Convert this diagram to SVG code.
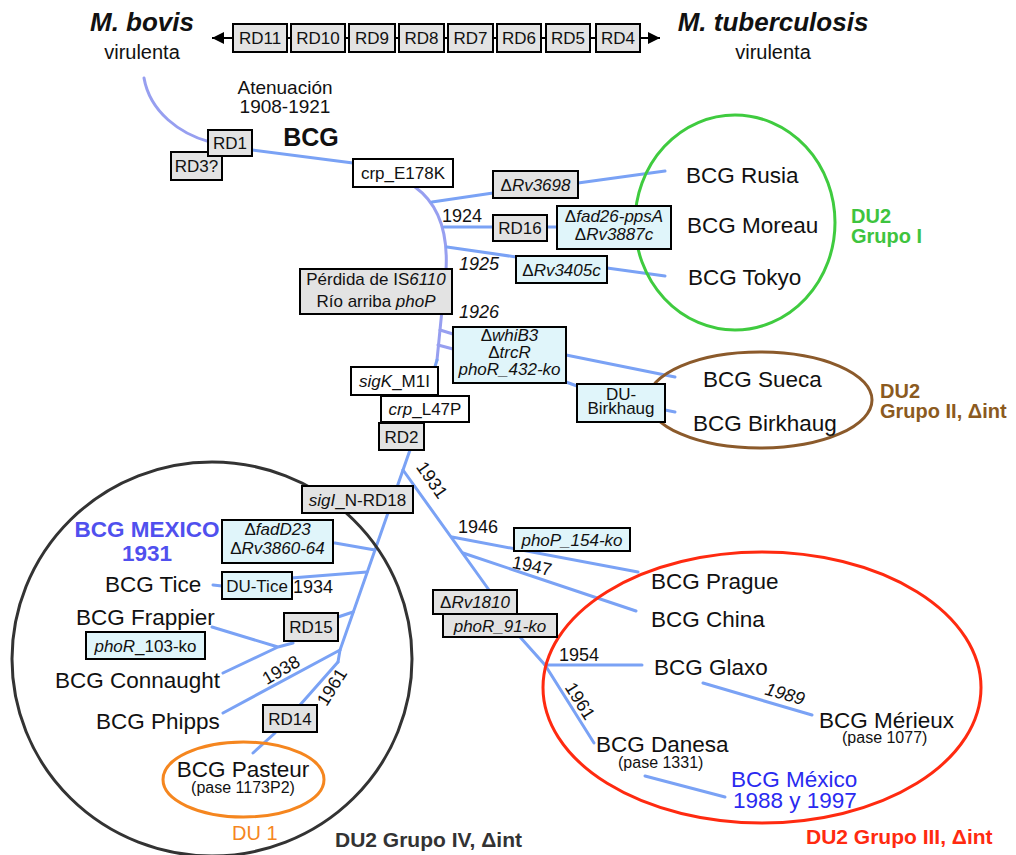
<svg xmlns="http://www.w3.org/2000/svg" width="1016" height="855" viewBox="0 0 1016 855">
<defs>
<marker id="ah" viewBox="0 0 10 10" refX="10" refY="5" markerWidth="12" markerHeight="12" markerUnits="userSpaceOnUse" orient="auto-start-reverse"><path d="M0,0 L10,5 L0,10 z" fill="#000"/></marker>
</defs>
<style>
text{font-family:"Liberation Sans",Arial,sans-serif;fill:#111}
.bx{stroke:#000;stroke-width:2}
.g{fill:#e3e3e3}
.c{fill:#e0f5fa}
.w{fill:#fff}
.t{font-size:17px;text-anchor:middle}
.n{font-size:22.5px}
.y{font-size:18px;text-anchor:middle}
.l{fill:none;stroke:#7aa2f5;stroke-width:3;stroke-linecap:round}
.p{stroke:#979ff0}
.i{font-style:italic}
.gl{font-size:20px;font-weight:bold}
.el{fill:none;stroke-width:3}
.ps{font-size:16px}
</style>
<rect width="1016" height="855" fill="#fff"/>

<g id="connectors">
<path d="M212,38 L660,38" fill="none" stroke="#000" stroke-width="2" marker-start="url(#ah)" marker-end="url(#ah)"/>
<path class="l p" d="M144,78 C150,112 180,134 210,142"/>
<path class="l" d="M252,150 L353,163"/>
<path class="l p" d="M415,187 C440,205 448,235 446,270 L437,360"/>
<path class="l" d="M437,360 L410,450 L340,650 L338,662"/>
<path class="l" d="M432,202 L493,193 M578,183 L665,171"/>
<path class="l" d="M444,227 L493,227 M547,227 L557,227"/>
<path class="l" d="M447,247 L516,257 M607,268 L665,276"/>
<path class="l p" d="M440,330 L453,334 M438,345 L453,349"/>
<path class="l" d="M566,355 L675,377 M566,382 L577,386 M665,410 L675,412"/>
<path class="l" d="M403,470 L489,590 M520,637 L545,665 L594,743"/>
<path class="l" d="M452,537 L638,572 M463,553 L636,611"/>
<path class="l" d="M545,665 L642,665"/>
<path class="l" d="M703,683 L812,715"/>
<path class="l" d="M645,776 L725,797"/>
<path class="l" d="M335,543 L375,550 M291,578 L367,572 M213,585 L222,586"/>
<path class="l" d="M338,617 L353,612 M293,643 L278,647 M212,627 L278,647 M223,673 L278,647"/>
<path class="l" d="M223,713 L340,650 M338,662 L300,705 M275,733 L253,753"/>
</g>

<g id="groups">
<ellipse id="grupoI" class="el" cx="735" cy="222.5" rx="100" ry="107.5" stroke="#3fcb3f"/>
<ellipse id="grupoII" class="el" cx="760" cy="400" rx="112" ry="48" stroke="#8b5a2b"/>
<ellipse id="grupoIV" class="el" cx="212" cy="659" rx="200" ry="197" stroke="#333"/>
<ellipse id="du1" class="el" cx="243.5" cy="779.5" rx="80.5" ry="37.5" stroke="#f5861f"/>
<ellipse id="grupoIII" class="el" cx="762" cy="687.5" rx="219" ry="135.5" stroke="#ff2a10"/>
</g>

<g id="mbovis">
<text x="142" y="31" font-size="26" font-weight="bold" font-style="italic" text-anchor="middle">M. bovis</text>
<text x="142" y="59" font-size="20" text-anchor="middle">virulenta</text>
</g>
<g id="mtb">
<text x="773" y="31" font-size="26" font-weight="bold" font-style="italic" text-anchor="middle">M. tuberculosis</text>
<text x="773" y="59" font-size="20" text-anchor="middle">virulenta</text>
</g>
<g id="rd-row">
<rect class="bx g" x="233" y="24" width="54" height="28"/><text class="t" x="260" y="44">RD11</text>
<rect class="bx g" x="291" y="24" width="54" height="28"/><text class="t" x="318" y="44">RD10</text>
<rect class="bx g" x="349" y="24" width="46" height="28"/><text class="t" x="372" y="44">RD9</text>
<rect class="bx g" x="399" y="24" width="45" height="28"/><text class="t" x="421.5" y="44">RD8</text>
<rect class="bx g" x="448" y="24" width="45" height="28"/><text class="t" x="470.5" y="44">RD7</text>
<rect class="bx g" x="497" y="24" width="44" height="28"/><text class="t" x="519" y="44">RD6</text>
<rect class="bx g" x="546" y="24" width="44" height="28"/><text class="t" x="568" y="44">RD5</text>
<rect class="bx g" x="596" y="24" width="44" height="28"/><text class="t" x="618" y="44">RD4</text>
</g>
<g id="atenuacion">
<text x="285" y="94" font-size="19" text-anchor="middle">Atenuación</text>
<text x="285" y="113" font-size="19" text-anchor="middle">1908-1921</text>
<text x="311" y="146" font-size="25" font-weight="bold" text-anchor="middle">BCG</text>
</g>
<g id="rd3"><rect class="bx g" x="171" y="152" width="51" height="28"/><text class="t" x="196.5" y="172">RD3?</text></g>
<g id="rd1"><rect class="bx g" x="208" y="130" width="44" height="26"/><text class="t" x="230" y="149">RD1</text></g>
<g id="crpE"><rect class="bx w" x="353" y="159" width="100" height="28"/><text class="t" x="403" y="179">crp_E178K</text></g>
<g id="rv3698"><rect class="bx g" x="493" y="171" width="85" height="27"/><text class="t" x="535.5" y="191">Δ<tspan class="i">Rv3698</tspan></text></g>
<g id="rd16"><rect class="bx g" x="493" y="215" width="54" height="26"/><text class="t" x="520" y="234">RD16</text></g>
<g id="fad26"><rect class="bx c" x="557" y="206" width="114" height="43"/><text class="t" x="614" y="222">Δ<tspan class="i">fad26-ppsA</tspan></text><text class="t" x="614" y="240">Δ<tspan class="i">Rv3887c</tspan></text></g>
<g id="rv3405"><rect class="bx c" x="516" y="256" width="91" height="27"/><text class="t" x="561.5" y="276">Δ<tspan class="i">Rv3405c</tspan></text></g>
<g id="perdida"><rect class="bx g" x="300" y="269" width="152" height="45"/><text class="t" x="376" y="285">Pérdida de IS<tspan class="i">6110</tspan></text><text class="t" x="376" y="307">Río arriba <tspan class="i">phoP</tspan></text></g>
<g id="whiB3"><rect class="bx c" x="453" y="327" width="113" height="56"/><text class="t" x="509.5" y="341">Δ<tspan class="i">whiB3</tspan></text><text class="t" x="509.5" y="358">Δ<tspan class="i">trcR</tspan></text><text class="t i" x="509.5" y="375">phoR_432-ko</text></g>
<g id="duBirkhaug"><rect class="bx c" x="577" y="384" width="88" height="38"/><text class="t" x="621" y="400">DU-</text><text class="t" x="621" y="414">Birkhaug</text></g>
<g id="sigK"><rect class="bx w" x="351" y="367" width="87" height="28"/><text class="t" x="394.5" y="387"><tspan class="i">sigK</tspan>_M1I</text></g>
<g id="crpL"><rect class="bx w" x="381" y="396" width="88" height="26"/><text class="t" x="425" y="415"><tspan class="i">crp</tspan>_L47P</text></g>
<g id="rd2"><rect class="bx g" x="379" y="423" width="45" height="27"/><text class="t" x="401.5" y="443">RD2</text></g>
<g id="sigI"><rect class="bx g" x="302" y="486" width="111" height="27"/><text class="t" x="357.5" y="506"><tspan class="i">sigI</tspan>_N-RD18</text></g>
<g id="fadD23"><rect class="bx c" x="222" y="520" width="111" height="43"/><text class="t" x="277.5" y="535">Δ<tspan class="i">fadD23</tspan></text><text class="t" x="277.5" y="554">Δ<tspan class="i">Rv3860-64</tspan></text></g>
<g id="duTice"><rect class="bx c" x="222" y="572" width="70" height="27"/><text class="t" x="257" y="592">DU-Tice</text></g>
<g id="rd15"><rect class="bx g" x="284" y="613" width="54" height="28"/><text class="t" x="311" y="633">RD15</text></g>
<g id="phoR103"><rect class="bx c" x="86" y="632" width="119" height="27"/><text class="t" x="145.5" y="652"><tspan class="i">phoR</tspan>_103-ko</text></g>
<g id="rd14"><rect class="bx g" x="263" y="705" width="54" height="27"/><text class="t" x="290" y="725">RD14</text></g>
<g id="phoP154"><rect class="bx c" x="514" y="528" width="116" height="23"/><text class="t i" x="572" y="546">phoP_154-ko</text></g>
<g id="rv1810"><rect class="bx g" x="433" y="590" width="84" height="24"/><text class="t" x="475" y="608">Δ<tspan class="i">Rv1810</tspan></text></g>
<g id="phoR91"><rect class="bx g" x="443" y="614" width="114" height="23"/><text class="t i" x="500" y="632">phoR_91-ko</text></g>

<g id="years">
<text class="y" x="462" y="222">1924</text>
<text class="y i" x="479" y="270">1925</text>
<text class="y i" x="479" y="318">1926</text>
<text class="y" transform="rotate(55 432 480)" x="432" y="486">1931</text>
<text class="y" x="313" y="593">1934</text>
<text class="y" transform="rotate(-30 281 670)" x="281" y="676">1938</text>
<text class="y" transform="rotate(-58 332 687)" x="332" y="693">1961</text>
<text class="y" x="478" y="533">1946</text>
<text class="y" transform="rotate(12 532 566)" x="532" y="572">1947</text>
<text class="y" x="579" y="661">1954</text>
<text class="y i" transform="rotate(16 785 694)" x="785" y="700">1989</text>
<text class="y" transform="rotate(58 580 701)" x="580" y="707">1961</text>
</g>

<g id="grupoI-strains">
<text class="n" x="686" y="183">BCG Rusia</text>
<text class="n" x="687" y="233">BCG Moreau</text>
<text class="n" x="688" y="285">BCG Tokyo</text>
<text class="gl" x="851" y="223" style="fill:#3ec43e">DU2</text>
<text class="gl" x="851" y="243" style="fill:#3ec43e">Grupo I</text>
</g>
<g id="grupoII-strains">
<text class="n" x="703" y="387">BCG Sueca</text>
<text class="n" x="693" y="431">BCG Birkhaug</text>
<text class="gl" x="880" y="398" style="fill:#8b5a20">DU2</text>
<text class="gl" x="880" y="418" style="fill:#8b5a20">Grupo II, Δint</text>
</g>
<g id="grupoIII-strains">
<text class="n" x="651" y="589">BCG Prague</text>
<text class="n" x="651" y="627">BCG China</text>
<text class="n" x="654" y="675">BCG Glaxo</text>
<text class="n" x="819" y="728">BCG Mérieux</text>
<text class="ps" x="842" y="743">(pase 1077)</text>
<text class="n" x="596" y="752">BCG Danesa</text>
<text class="ps" x="618" y="768">(pase 1331)</text>
<text class="n" x="731" y="787" style="fill:#2a2af0">BCG México</text>
<text class="n" x="733" y="808" style="fill:#2a2af0">1988 y 1997</text>
<text x="806" y="844" font-size="21" font-weight="bold" style="fill:#ff2a10">DU2 Grupo III, Δint</text>
</g>
<g id="grupoIV-strains">
<text x="147" y="537" font-size="22.5" font-weight="bold" text-anchor="middle" style="fill:#5050ee">BCG MEXICO</text>
<text x="147" y="561" font-size="22.5" font-weight="bold" text-anchor="middle" style="fill:#5050ee">1931</text>
<text class="n" x="105" y="592">BCG Tice</text>
<text class="n" x="76" y="625">BCG Frappier</text>
<text class="n" x="55" y="688">BCG Connaught</text>
<text class="n" x="96" y="729">BCG Phipps</text>
<text class="n" x="243" y="777" text-anchor="middle">BCG Pasteur</text>
<text class="ps" x="243" y="793" text-anchor="middle">(pase 1173P2)</text>
<text x="232" y="840" font-size="20" style="fill:#f5861f">DU 1</text>
<text x="335" y="847" font-size="21" font-weight="bold" style="fill:#333">DU2 Grupo IV, Δint</text>
</g>
</svg>
